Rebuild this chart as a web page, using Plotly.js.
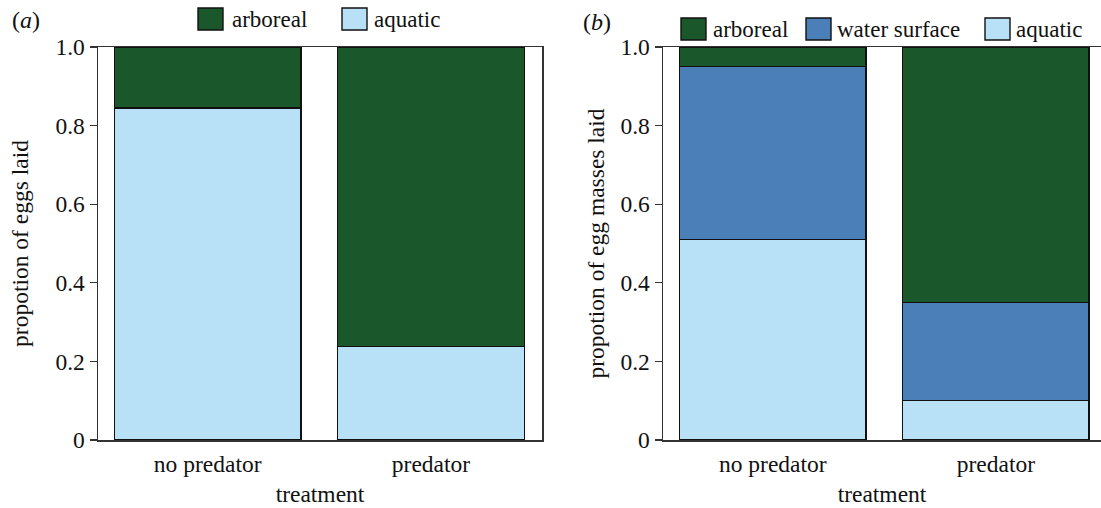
<!DOCTYPE html>
<html>
<head>
<meta charset="utf-8">
<script src="https://cdn.plot.ly/plotly-3.0.1.min.js"></script>
<style>html,body{margin:0;padding:0;background:#fff;}#chart{width:1101px;height:508px;}</style>
</head>
<body>
<div id="chart"></div>
<script>
// ---- data ----
const treatments = ["no predator", "predator"];
const eggsAquatic = [0.845, 0.238];
const eggsArboreal = [0.155, 0.762];
const massesAquatic = [0.51, 0.10];
const massesWaterSurface = [0.44, 0.25];
const massesArboreal = [0.05, 0.65];
const yTickVals = [0, 0.2, 0.4, 0.6, 0.8, 1.0];
const yTickText = ["0", "0.2", "0.4", "0.6", "0.8", "1.0"];
const seriesNamesA = ["arboreal", "aquatic"];
const seriesNamesB = ["arboreal", "water surface", "aquatic"];

// ---- styles ----
const C_ARB = "#1a582b";
const C_WS = "#4a80b7";
const C_AQ = "#b8e0f7";
const FONT = "Liberation Serif";
const FS = 23.5;
const outline = {color: "#111", width: 1.4};
const BW = 0.836;

function bar(x, y, color, xa, ya, name) {
  return {type: "bar", x: x, y: y, name: name, xaxis: xa, yaxis: ya, width: BW,
          marker: {color: color, line: outline}, showlegend: false, hoverinfo: "skip"};
}

const data = [
  bar(treatments, eggsAquatic, C_AQ, "x", "y", "aquatic"),
  bar(treatments, eggsArboreal, C_ARB, "x", "y", "arboreal"),
  bar(treatments, massesAquatic, C_AQ, "x2", "y2", "aquatic"),
  bar(treatments, massesWaterSurface, C_WS, "x2", "y2", "water surface"),
  bar(treatments, massesArboreal, C_ARB, "x2", "y2", "arboreal")
];

const W = 1101;
const axX = (dom, range) => ({
  domain: dom, range: range, type: "category", showline: true, mirror: true,
  linecolor: "#333", linewidth: 1.5, ticks: "", showgrid: false, zeroline: false,
  tickfont: {family: FONT, size: FS, color: "#111"}, ticklabelstandoff: 2,
  title: {text: "treatment", font: {family: FONT, size: FS, color: "#111"}, standoff: 10},
  fixedrange: true
});
const axY = (title, mirror, anchor, standoff) => ({
  domain: [0, 1], range: [0, 1], anchor: anchor, showline: true, mirror: mirror,
  linecolor: "#333", linewidth: 1.5, ticks: "outside", ticklen: 7, tickwidth: 1.3, tickcolor: "#333",
  tickvals: yTickVals, ticktext: yTickText, showgrid: false, zeroline: false,
  tickfont: {family: FONT, size: FS, color: "#111"},
  title: {text: title, font: {family: FONT, size: FS, color: "#111"}, standoff: standoff},
  fixedrange: true
});

const xa = axX([98/W, 542/W], [-0.491, 1.497]);
xa.anchor = "y";
const xb = axX([663/W, 1], [-0.492, 1.471]);
xb.anchor = "y2";

// custom legends (paper coords in px)
const shapes = [];
const annotations = [];
function px(x) { return x / W; }
function py(y) { return 1 - (y - 47) / (440.5 - 47); }
function legendItem(x0, tx, yc, label, color) {
  shapes.push({type: "rect", xref: "paper", yref: "paper", x0: px(x0), x1: px(x0 + 25),
               y0: py(yc + 11), y1: py(yc - 11), fillcolor: color, line: {color: "#111", width: 1.4}});
  annotations.push({xref: "paper", yref: "paper", x: px(tx), y: py(yc), xanchor: "left", yanchor: "middle",
                    text: label, showarrow: false, font: {family: FONT, size: 23, color: "#111"}});
}
legendItem(198, 230, 19, seriesNamesA[0], C_ARB);
legendItem(342, 372, 19, seriesNamesA[1], C_AQ);
legendItem(681, 711, 29, seriesNamesB[0], C_ARB);
legendItem(806, 835, 29, seriesNamesB[1], C_WS);
legendItem(985, 1014, 29, seriesNamesB[2], C_AQ);

annotations.push({xref: "paper", yref: "paper", x: px(10), y: py(20), xanchor: "left", yanchor: "middle",
                  text: "(<i>a</i>)", showarrow: false, font: {family: FONT, size: 24, color: "#111"}});
annotations.push({xref: "paper", yref: "paper", x: px(581), y: py(22), xanchor: "left", yanchor: "middle",
                  text: "(<i>b</i>)", showarrow: false, font: {family: FONT, size: 24, color: "#111"}});

const layout = {
  width: 1101, height: 508,
  margin: {l: 0, r: 0, t: 47, b: 67.5},
  paper_bgcolor: "#fff", plot_bgcolor: "#fff",
  barmode: "stack", bargap: 0,
  showlegend: false,
  xaxis: xa, xaxis2: xb,
  yaxis: axY("propotion of eggs laid", true, "x", 20),
  yaxis2: axY("propotion of egg masses laid", false, "x2", 9),
  shapes: shapes, annotations: annotations,
  font: {family: FONT, color: "#111"}
};

Plotly.newPlot("chart", data, layout, {displayModeBar: false, staticPlot: true});
</script>
</body>
</html>
